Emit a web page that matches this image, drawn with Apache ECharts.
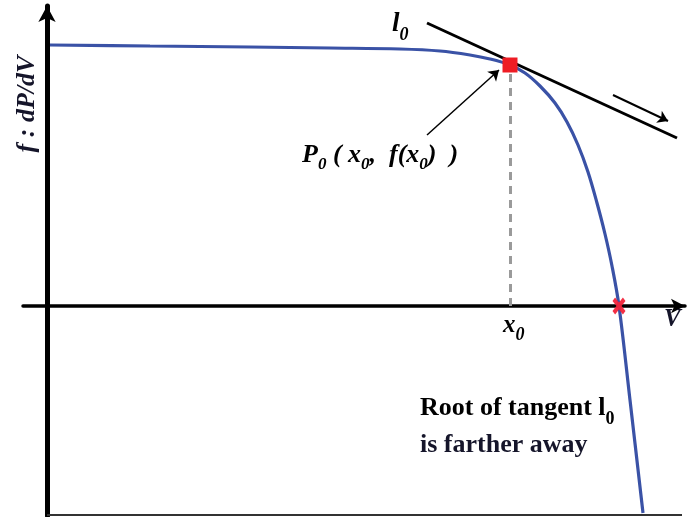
<!DOCTYPE html>
<html>
<head>
<meta charset="utf-8">
<script src="https://cdn.jsdelivr.net/npm/echarts@6/dist/echarts.min.js"></script>
<style>
  html, body { margin: 0; padding: 0; background: #fff; }
  #chart { width: 689px; height: 517px; }
</style>
</head>
<body>
<div id="chart"></div>
<script>
// f(V) = dP/dV curve samples (V, f)
const vCurve = [0.15, 5.15, 10.15, 14.15, 17.65, 19.65, 21.15, 22.15, 23.15, 23.9, 24.65, 25.4, 26.0, 26.55, 27.05, 27.5, 27.9, 28.25, 28.6, 29.15, 29.8];
const fCurve = [13.05, 13.0, 12.95, 12.9, 12.85, 12.75, 12.55, 12.35, 12.05, 11.65, 11.0, 10.15, 9.2, 8.05, 6.7, 5.15, 3.6, 2.0, 0, -4.7, -10.35];

// operating point P0 = (x0, f(x0)) and the curve's root
const p0 = [23.15, 12.05];
const rootV = [28.6, 0];

// tangent l0 through P0 (end points)
const tangentV = [19.0, 31.5];
const tangentF = [14.15, 8.4];

// direction arrow next to the tangent, and the pointer from the P0 label
const moveArrow = [[28.3, 10.55], [31.05, 9.25]];
const pointerArrow = [[19.0, 8.55], [22.6, 11.8]];

// lower frame line
const frameBottom = [[0, -10.45], [31.75, -10.45]];

const serif = '"Liberation Serif", "DejaVu Serif", serif';
const ink = '#15152a';

const curveData = vCurve.map((v, i) => [v, fCurve[i]]);
const tangentData = tangentV.map((v, i) => [v, tangentF[i]]);

const chart = echarts.init(document.getElementById('chart'), null, { renderer: 'canvas' });

// rich-text pieces: main glyphs hang from the top, subscripts sit on the bottom of the line
const mainStyle = (size, italic) => ({ fontFamily: serif, fontStyle: italic ? 'italic' : 'normal', fontWeight: 'bold',
  fontSize: size, lineHeight: size, verticalAlign: 'top', color: ink });
const subStyle = (size, lh, italic) => ({ fontFamily: serif, fontStyle: italic ? 'italic' : 'normal', fontWeight: 'bold',
  fontSize: size, lineHeight: lh, verticalAlign: 'bottom', color: ink });

chart.setOption({
  animation: false,
  backgroundColor: '#fff',
  grid: { left: 23, right: 4, top: 6, bottom: 1, containLabel: false },
  xAxis: {
    type: 'value', min: -1.2, max: 31.9,
    axisLine: { show: true, onZero: true, symbol: ['none', 'arrow'], symbolSize: [11, 14],
      lineStyle: { color: '#000', width: 3.5 } },
    axisTick: { show: false }, axisLabel: { show: false }, splitLine: { show: false }
  },
  yAxis: {
    type: 'value', min: -10.5, max: 15,
    axisLine: { show: true, onZero: true, symbol: ['none', 'arrow'], symbolSize: [13, 16],
      lineStyle: { color: '#000', width: 5 } },
    axisTick: { show: false }, axisLabel: { show: false }, splitLine: { show: false }
  },
  series: [
    {
      type: 'line', data: curveData, smooth: 0.35,
      symbol: 'none', z: 3,
      lineStyle: { color: '#3a52a6', width: 3.2 },
      markLine: {
        silent: true, animation: false,
        symbol: ['none', 'none'],
        label: { show: false },
        data: [
          [{ coord: [p0[0], p0[1] - 0.45], lineStyle: { color: '#9a9a9a', width: 3, type: [8, 6] } },
           { coord: [p0[0], 0] }],
          [{ coord: frameBottom[0], lineStyle: { color: '#333', width: 2, type: 'solid' } },
           { coord: frameBottom[1] }],
          [{ coord: moveArrow[0], symbol: 'none', lineStyle: { color: '#000', width: 2, type: 'solid' } },
           { coord: moveArrow[1], symbol: 'arrow', symbolSize: 10 }],
          [{ coord: pointerArrow[0], symbol: 'none', lineStyle: { color: '#000', width: 1.5, type: 'solid' } },
           { coord: pointerArrow[1], symbol: 'arrow', symbolSize: 10 }]
        ]
      }
    },
    {
      type: 'line', data: tangentData, symbol: 'none', z: 4,
      lineStyle: { color: '#000', width: 3 }
    },
    {
      type: 'scatter', data: [p0], symbol: 'rect', symbolSize: 15, z: 6,
      itemStyle: { color: '#ee1c24', opacity: 1 }
    },
    {
      type: 'scatter', data: [rootV], z: 6,
      symbol: 'path://M0,2L2,0L5,3L8,0L10,2L7,5L10,8L8,10L5,7L2,10L0,8L3,5Z',
      symbolSize: [13, 17],
      itemStyle: { color: '#f2243a', opacity: 0.95 }
    }
  ],
  graphic: [
    // y-axis name, reading upward
    { type: 'text', x: 27, y: 104, rotation: Math.PI / 2, z: 10,
      style: { text: 'f : dP/dV', fill: ink, font: 'italic bold 26px ' + serif,
        textAlign: 'center', textVerticalAlign: 'middle' } },
    // tangent name
    { type: 'text', x: 392, y: 11, z: 10,
      style: { text: '{m|l}{s|0}', rich: { m: mainStyle(27, true), s: subStyle(18, 33, true) } } },
    // P0 label
    { type: 'text', x: 302, y: 142, z: 10,
      style: { text: '{m|P}{s|0}{m| ( x}{s|0}{m|,  f(x}{s|0}{m|)  )}',
        rich: { m: mainStyle(26, true), s: subStyle(17, 31, true) } } },
    // x0 under the axis
    { type: 'text', x: 503, y: 313, z: 10,
      style: { text: '{m|x}{s|0}', rich: { m: mainStyle(25, true), s: subStyle(18, 31, true) } } },
    // horizontal axis name
    { type: 'text', x: 664, y: 307, z: 10,
      style: { text: 'V', fill: ink, font: 'italic bold 25px ' + serif,
        textAlign: 'left', textVerticalAlign: 'top' } },
    // note about the tangent's root
    { type: 'text', x: 420, y: 395, z: 10,
      style: { text: '{m|Root of tangent l}{s|0}',
        rich: { m: mainStyle(26, false), s: subStyle(18, 33, false) } } },
    { type: 'text', x: 420, y: 432, z: 10,
      style: { text: 'is farther away', fill: ink, font: 'bold 26px ' + serif,
        textAlign: 'left', textVerticalAlign: 'top' } }
  ]
});
</script>
</body>
</html>
